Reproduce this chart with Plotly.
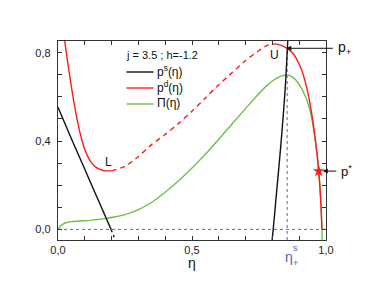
import plotly.graph_objects as go

# ---- data ----
# p^s(eta): black, left branch (solid + short dashed tail) and right branch
ps_left_eta = [0.0, 0.05, 0.10, 0.15, 0.198]
ps_left_val = [0.553, 0.41, 0.272, 0.133, 0.0]
ps_tail_eta = [0.198, 0.21]
ps_tail_val = [0.0, -0.036]
ps_right_eta = [0.798, 0.803, 0.813, 0.83, 0.842, 0.85, 0.858]
ps_right_val = [-0.06, 0.0, 0.133, 0.36, 0.54, 0.68, 0.87]

# p^d(eta): red, solid left branch, dashed middle branch, solid right branch
pd_left_eta = [0.022, 0.03, 0.04, 0.05, 0.06, 0.07, 0.08, 0.09, 0.10, 0.11, 0.12,
               0.135, 0.15, 0.165, 0.18, 0.20]
pd_left_val = [0.88, 0.81, 0.725, 0.645, 0.572, 0.505, 0.448, 0.40, 0.362, 0.333, 0.31,
               0.288, 0.275, 0.268, 0.265, 0.265]
pd_mid_eta = [0.20, 0.25, 0.30, 0.35, 0.40, 0.45, 0.50, 0.55, 0.60, 0.65, 0.70, 0.75,
              0.78, 0.805]
pd_mid_val = [0.265, 0.285, 0.33, 0.385, 0.43, 0.48, 0.535, 0.595, 0.655, 0.71, 0.765,
              0.81, 0.833, 0.84]
pd_right_eta = [0.805, 0.82, 0.835, 0.85, 0.865, 0.878, 0.89, 0.90, 0.91, 0.92, 0.93,
                0.94, 0.95, 0.96, 0.967, 0.973, 0.978, 0.982, 0.985]
pd_right_val = [0.84, 0.838, 0.832, 0.823, 0.81, 0.795, 0.772, 0.748, 0.718, 0.68, 0.632,
                0.572, 0.50, 0.41, 0.34, 0.264, 0.18, 0.09, 0.0]

# Pi(eta): green
pi_eta = [0.0, 0.01, 0.02, 0.03, 0.05, 0.08, 0.118, 0.15, 0.18, 0.21, 0.25, 0.30, 0.35,
          0.40, 0.45, 0.50, 0.55, 0.60, 0.65, 0.70, 0.75, 0.78, 0.80, 0.82, 0.835, 0.852,
          0.865, 0.88, 0.895, 0.91, 0.925, 0.94, 0.95, 0.96, 0.967, 0.973, 0.978, 0.982, 0.986]
pi_val = [0.0, 0.015, 0.025, 0.03, 0.035, 0.038, 0.041, 0.045, 0.05, 0.056, 0.067, 0.09, 0.123,
          0.168, 0.22, 0.278, 0.34, 0.408, 0.478, 0.548, 0.615, 0.652, 0.672, 0.687, 0.695, 0.699,
          0.696, 0.685, 0.665, 0.635, 0.597, 0.54, 0.48, 0.40, 0.335, 0.264, 0.18, 0.09, -0.048]

eta_plus_s = 0.855
p_plus = 0.82
p_star_eta = 0.973
p_star_val = 0.264
L_point = (0.187, 0.305)
U_point = (0.807, 0.79)

x_ticks = [0.0, 0.5, 1.0]
y_ticks = [0.0, 0.4, 0.8]
x_range = [0.0, 1.0]
y_range = [-0.048, 0.853]

RED = "#ff1a1a"
GREEN = "#6cc04a"
BLACK = "#111111"
BLUE = "#5064b4"
AX = "#333333"
FONT = "Liberation Sans, Arial, sans-serif"

fig = go.Figure()

def add(x, y, color, dash="solid", width=1.4):
    fig.add_trace(go.Scatter(x=x, y=y, mode="lines", showlegend=False, hoverinfo="skip",
                             line=dict(color=color, width=width, dash=dash, shape="spline",
                                       smoothing=0.4)))

# reference dashed lines
fig.add_trace(go.Scatter(x=x_range, y=[0, 0], mode="lines", showlegend=False,
                         line=dict(color=BLUE, width=1, dash="3px,3px")))
fig.add_trace(go.Scatter(x=[eta_plus_s, eta_plus_s], y=[y_range[0], p_plus], mode="lines",
                         showlegend=False, line=dict(color=BLUE, width=1, dash="3px,3px")))

add(pi_eta, pi_val, GREEN)
add(pd_left_eta, pd_left_val, RED)
add(pd_mid_eta, pd_mid_val, RED, dash="5px,4px")
add(pd_right_eta, pd_right_val, RED)
add(ps_left_eta, ps_left_val, BLACK)
add(ps_tail_eta, ps_tail_val, BLACK, dash="3px,3px")
add(ps_right_eta, ps_right_val, BLACK)

fig.add_trace(go.Scatter(x=[p_star_eta], y=[p_star_val], mode="markers", showlegend=False,
                         marker=dict(symbol="star", size=9, color=RED, line=dict(width=0))))

# plot area in window pixels: left 58, right 326, top 41, bottom 240
# (the page body adds an 8 px offset, so the figure is 8 px smaller on each axis)
OFF = 8
W, H = 372 - OFF, 292 - OFF
PL, PR, PT, PB = 58, 326, 41, 240
def px(x):
    return (x - PL) / (PR - PL)
def py(y):
    return (PB - y) / (PB - PT)

ann = []
def text(x, y, s, size=11, color="#111", xanchor="center", xref="paper", yref="paper"):
    ann.append(dict(x=x, y=y, xref=xref, yref=yref, text=s, showarrow=False,
                    font=dict(family=FONT, size=size, color=color),
                    xanchor=xanchor, yanchor="middle"))

text(px(162), py(55), "j = 3.5 ; h=-1.2", size=11)

# manual legend
legend_items = [("p<sup>s</sup>(η)", BLACK, 72), ("p<sup>d</sup>(η)", RED, 88), ("Π(η)", GREEN, 104)]
shapes = []
for label, col, yy in legend_items:
    shapes.append(dict(type="line", xref="paper", yref="paper", x0=px(126.5), x1=px(153.5),
                       y0=py(yy), y1=py(yy), line=dict(color=col, width=1.4)))
    text(px(155), py(yy - 1), label, size=12, xanchor="left")

text(L_point[0], L_point[1], "L", size=12, xref="x", yref="y")
text(U_point[0], U_point[1], "U", size=12, xref="x", yref="y")

# p+ and p* labels with arrows
text(px(336), py(48), "p<sub>+</sub>", size=14, xanchor="left")
text(px(339), py(171), "p<sup>*</sup>", size=13, xanchor="left")
ann.append(dict(x=0.852, y=p_plus, xref="x", yref="y", ax=48, ay=0, text="",
                showarrow=True, arrowhead=2, arrowsize=1, arrowwidth=1, arrowcolor=BLACK))
ann.append(dict(x=0.988, y=p_star_val, xref="x", yref="y", ax=15, ay=0, text="",
                showarrow=True, arrowhead=2, arrowsize=1, arrowwidth=1, arrowcolor=BLACK))

# eta labels below the axis
text(px(192), py(263), "η", size=14)
text(px(288.5), py(257), "η", size=14, color=BLUE)
text(px(295), py(247.5), "s", size=9, color=BLUE)
text(px(295), py(263), "+", size=9, color=BLUE)

axis_common = dict(showline=True, linecolor=AX, linewidth=1.3, mirror="allticks",
                   ticks="inside", ticklen=4, tickcolor=AX, tickwidth=1, showgrid=False,
                   zeroline=False, tickformat=".1f",
                   tickfont=dict(family=FONT, size=11, color="#222"))

fig.update_layout(
    width=W, height=H,
    margin=dict(l=PL - OFF, r=372 - PR, t=PT - OFF, b=292 - PB),
    paper_bgcolor="white", plot_bgcolor="white",
    separators=",.",
    showlegend=False,
    xaxis=dict(range=x_range, tickvals=x_ticks,
               minor=dict(dtick=0.1, ticks="inside", ticklen=4, tickcolor=AX), **axis_common),
    yaxis=dict(range=y_range, tickvals=y_ticks, ticklabelstandoff=4,
               minor=dict(dtick=0.1, ticks="inside", ticklen=4, tickcolor=AX), **axis_common),
    annotations=ann,
    shapes=shapes,
)

fig.write_html("out.html")
